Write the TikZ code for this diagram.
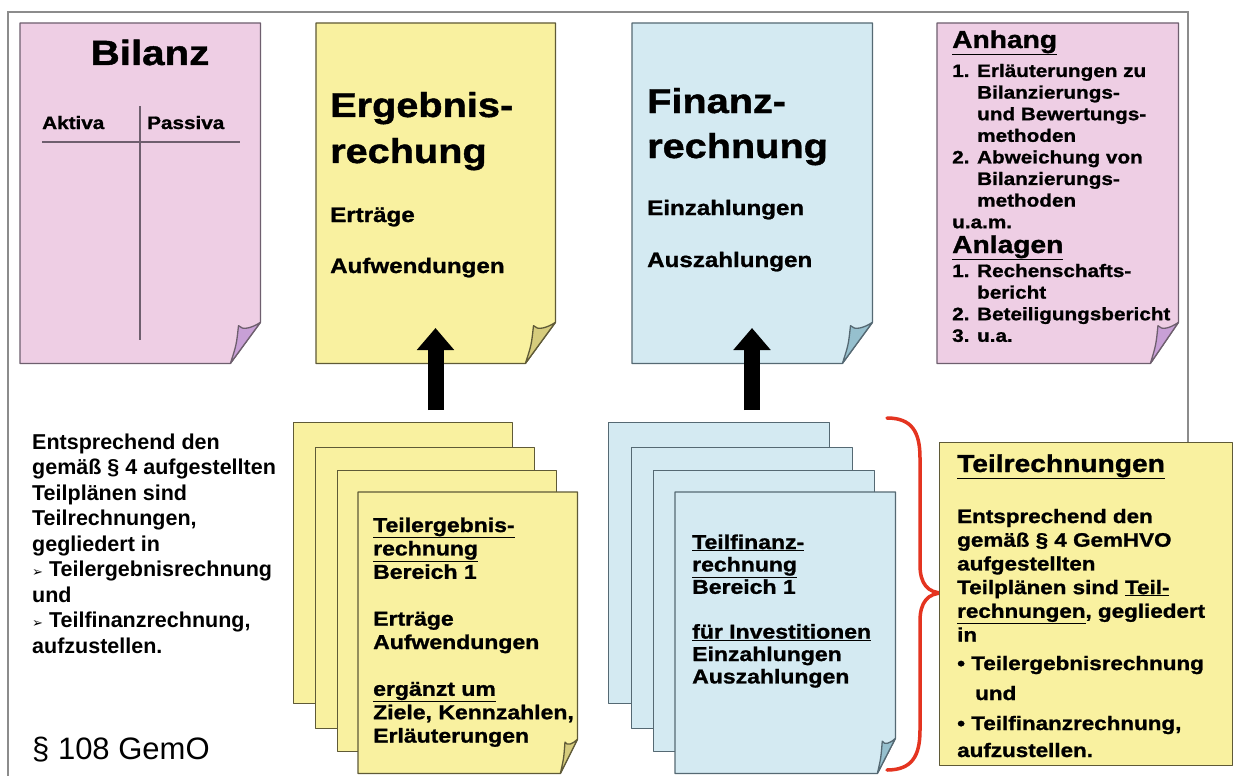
\documentclass[tikz,border=0pt]{standalone}
\usepackage{fontspec}
\setmainfont{Liberation Sans}
\newfontfamily\heavyfont{Liberation Sans}[FakeStretch=1.15, FakeBold=1.2]
\newfontfamily\symbolfont{DejaVu Sans}
\usetikzlibrary{arrows.meta}

\definecolor{framegray}{RGB}{140,140,140}
\definecolor{pinkpage}{RGB}{238,206,228}
\definecolor{pinkflap}{RGB}{200,160,214}
\definecolor{pinkline}{RGB}{110,95,110}
\definecolor{yellowpage}{RGB}{249,241,160}
\definecolor{yellowflap}{RGB}{214,204,125}
\definecolor{yellowline}{RGB}{95,90,55}
\definecolor{bluepage}{RGB}{212,234,242}
\definecolor{blueflap}{RGB}{150,192,206}
\definecolor{blueline}{RGB}{85,105,115}
\definecolor{bracered}{RGB}{228,52,32}

\newcommand\fsz[2]{\fontsize{#1pt}{#2pt}\selectfont}
% lines of text whose baseline is the first line
\newcommand\textlines[1]{\begin{tabular}[t]{@{}l@{}}#1\end{tabular}}

% sheet with curled lower right corner, drawn over a named placeholder
% #1 node, #2 fill, #3 flap fill, #4 line, #5 flap width, #6 flap height
\newcommand\curlpage[6]{%
  \filldraw[fill=#2, draw=#4, pageline] (#1.north west) -- (#1.north east)
    -- ([yshift=#6pt]#1.south east) -- ([xshift=-#5pt]#1.south east)
    -- (#1.south west) -- cycle;
  \filldraw[fill=#3, draw=#4, pageline] ([xshift=-#5pt]#1.south east)
    .. controls ([xshift=-0.8*#5pt, yshift=0.45*#6pt]#1.south east) .. ([xshift=-0.73*#5pt, yshift=0.92*#6pt]#1.south east)
    .. controls ([xshift=-0.6*#5pt, yshift=0.8*#6pt]#1.south east) and ([xshift=-0.3*#5pt, yshift=0.86*#6pt]#1.south east) .. ([yshift=#6pt]#1.south east)
    -- cycle;
}

\tikzset{
  pageline/.style={line width=1.3pt, line join=round},
  placeholder/.style={rectangle, inner sep=0pt, anchor=north west},
  sheet/.style={rectangle, inner sep=0pt, anchor=north west, pageline},
  txt/.style={anchor=base west, inner sep=0pt},
  heavy/.style={txt, font=\heavyfont\bfseries\fsz{#1}{#1}},
  bigup/.style={line width=16pt, -{Triangle[width=36pt,length=22pt]}},
  bracestyle/.style={draw=bracered, line width=3.5pt, line cap=round}
}

\begin{document}
\begin{tikzpicture}[x=1pt, y=-1pt]
\useasboundingbox (0,0) rectangle (1237,776);
\fill[white] (0,0) rectangle (1237,776);

% outer frame
\draw[framegray, line width=1.5pt] (8,776) -- (8,12) -- (1188,12) -- (1188,442);

% top row
\node[placeholder, minimum width=240pt, minimum height=340pt] (bilanz) at (20,23) {};
\curlpage{bilanz}{pinkpage}{pinkflap}{pinkline}{30}{41}
\node[heavy=35, anchor=base] (bilanzT) at (150,65) {Bilanz};
\node[heavy=18] (aktiva) at (42,129) {Aktiva};
\node[heavy=18] (passiva) at (147,129) {Passiva};
\draw[pinkline, line width=1.2pt] (140,106) -- (140,340);
\draw[pinkline, line width=1.2pt] (42,142) -- (240,142);

\node[placeholder, minimum width=239pt, minimum height=340pt] (ergebnis) at (316,23) {};
\curlpage{ergebnis}{yellowpage}{yellowflap}{yellowline}{30}{41}
\node[txt, font=\heavyfont\bfseries\fsz{34.5}{46}] (ergebnisT) at (330,117) {\textlines{Ergebnis-\\rechung}};
\node[heavy=21] (ertraege) at (330,222) {Erträge};
\node[heavy=21] (aufw) at (330,273) {Aufwendungen};

\node[placeholder, minimum width=240pt, minimum height=340pt] (finanz) at (632,23) {};
\curlpage{finanz}{bluepage}{blueflap}{blueline}{30}{41}
\node[txt, font=\heavyfont\bfseries\fsz{34.5}{45}] (finanzT) at (647,113) {\textlines{Finanz-\\rechnung}};
\node[heavy=21] (einz) at (647,215) {Einzahlungen};
\node[heavy=21] (ausz) at (647,267) {Auszahlungen};

\node[placeholder, minimum width=241pt, minimum height=340pt] (anhang) at (937,23) {};
\curlpage{anhang}{pinkpage}{pinkflap}{pinkline}{28}{41}
\node[heavy=24.5] (anhangT) at (952,48) {\underline{Anhang}};
\node[txt, font=\heavyfont\bfseries\fsz{18}{21.6}] (anhangL) at (952,77)
  {\textlines{1. Erläuterungen zu\\\hspace*{25pt}Bilanzierungs-\\\hspace*{25pt}und Bewertungs-\\\hspace*{25pt}methoden\\
   2. Abweichung von\\\hspace*{25pt}Bilanzierungs-\\\hspace*{25pt}methoden\\u.a.m.}};
\node[heavy=24.5] (anlagenT) at (952,253) {\underline{Anlagen}};
\node[txt, font=\heavyfont\bfseries\fsz{18}{21.6}] (anlagenL) at (952,277)
  {\textlines{1. Rechenschafts-\\\hspace*{25pt}bericht\\2. Beteiligungsbericht\\3. u.a.}};

% stacks of partial statements
\node[sheet, fill=yellowpage, draw=yellowline, minimum width=219pt, minimum height=281pt] (teilE1) at (293,422) {};
\node[sheet, fill=yellowpage, draw=yellowline, minimum width=219pt, minimum height=281pt] (teilE2) at (315,447) {};
\node[sheet, fill=yellowpage, draw=yellowline, minimum width=219pt, minimum height=281pt] (teilE3) at (337,470) {};
\node[placeholder, minimum width=219pt, minimum height=281pt] (teilE4) at (358,492) {};
\curlpage{teilE4}{yellowpage}{yellowflap}{yellowline}{17}{34}
\node[txt, font=\heavyfont\bfseries\fsz{20}{23.4}] (teilEL) at (373,532)
  {\textlines{\underline{Teilergebnis-}\\\underline{rechnung}\\Bereich 1\\[23.4pt]Erträge\\Aufwendungen\\[23.4pt]
   \underline{ergänzt um}\\Ziele, Kennzahlen,\\Erläuterungen}};

\node[sheet, fill=bluepage, draw=blueline, minimum width=221pt, minimum height=281pt] (teilF1) at (608,422) {};
\node[sheet, fill=bluepage, draw=blueline, minimum width=221pt, minimum height=281pt] (teilF2) at (631,447) {};
\node[sheet, fill=bluepage, draw=blueline, minimum width=221pt, minimum height=281pt] (teilF3) at (653,470) {};
\node[placeholder, minimum width=220pt, minimum height=281pt] (teilF4) at (675,492) {};
\curlpage{teilF4}{bluepage}{blueflap}{blueline}{18}{35}
\node[txt, font=\heavyfont\bfseries\fsz{20}{22.4}] (teilFL) at (692,549)
  {\textlines{\underline{Teilfinanz-}\\\underline{rechnung}\\Bereich 1\\[22.4pt]\underline{für Investitionen}\\Einzahlungen\\Auszahlungen}};

% arrows up to the statements
\coordinate (arrE0) at (435.5,410);
\coordinate (arrE1) at (435.5,328);
\coordinate (arrF0) at (752,410);
\coordinate (arrF1) at (752,328);
\draw[bigup] (arrE0) -- (arrE1);
\draw[bigup] (arrF0) -- (arrF1);

% brace and summary box
\draw[bracestyle] (887,418) .. controls (912,418) and (920,432) .. (920,458) -- (920,565)
  .. controls (920,584) and (928,593) .. (943,593)
  .. controls (928,593) and (920,602) .. (920,621) -- (920,730)
  .. controls (920,756) and (912,770) .. (887,770);
\node[sheet, fill=yellowpage, draw=yellowline, minimum width=293pt, minimum height=323pt] (teilbox) at (939,442) {};
\node[heavy=24.5] (teilboxT) at (957,472) {\underline{Teilrechnungen}};
\node[txt, font=\heavyfont\bfseries\fsz{19.5}{23.7}] (teilboxL) at (957,523)
  {\textlines{Entsprechend den\\gemäß § 4 GemHVO\\aufgestellten\\Teilplänen sind \underline{Teil-}\\\underline{rechnungen}, gegliedert\\in\\[4.8pt]
   \textbullet{} Teilergebnisrechnung\\[6.3pt]\hspace*{18pt}und\\[6.3pt]\textbullet{} Teilfinanzrechnung,\\[3.3pt]aufzustellen.}};

% left legal text
\node[txt, font=\bfseries\fsz{21.5}{25.5}] (lefttext) at (32,449)
  {\textlines{Entsprechend den\\gemäß § 4 aufgestellten\\Teilplänen sind\\Teilrechnungen,\\gegliedert in\\
   {\symbolfont\fontsize{13pt}{25.5pt}\selectfont ➢} Teilergebnisrechnung\\und\\
   {\symbolfont\fontsize{13pt}{25.5pt}\selectfont ➢} Teilfinanzrechnung,\\aufzustellen.}};
\node[txt, font=\fsz{31}{31}] (gemo) at (32,759) {§ 108 GemO};
\end{tikzpicture}
\end{document}
